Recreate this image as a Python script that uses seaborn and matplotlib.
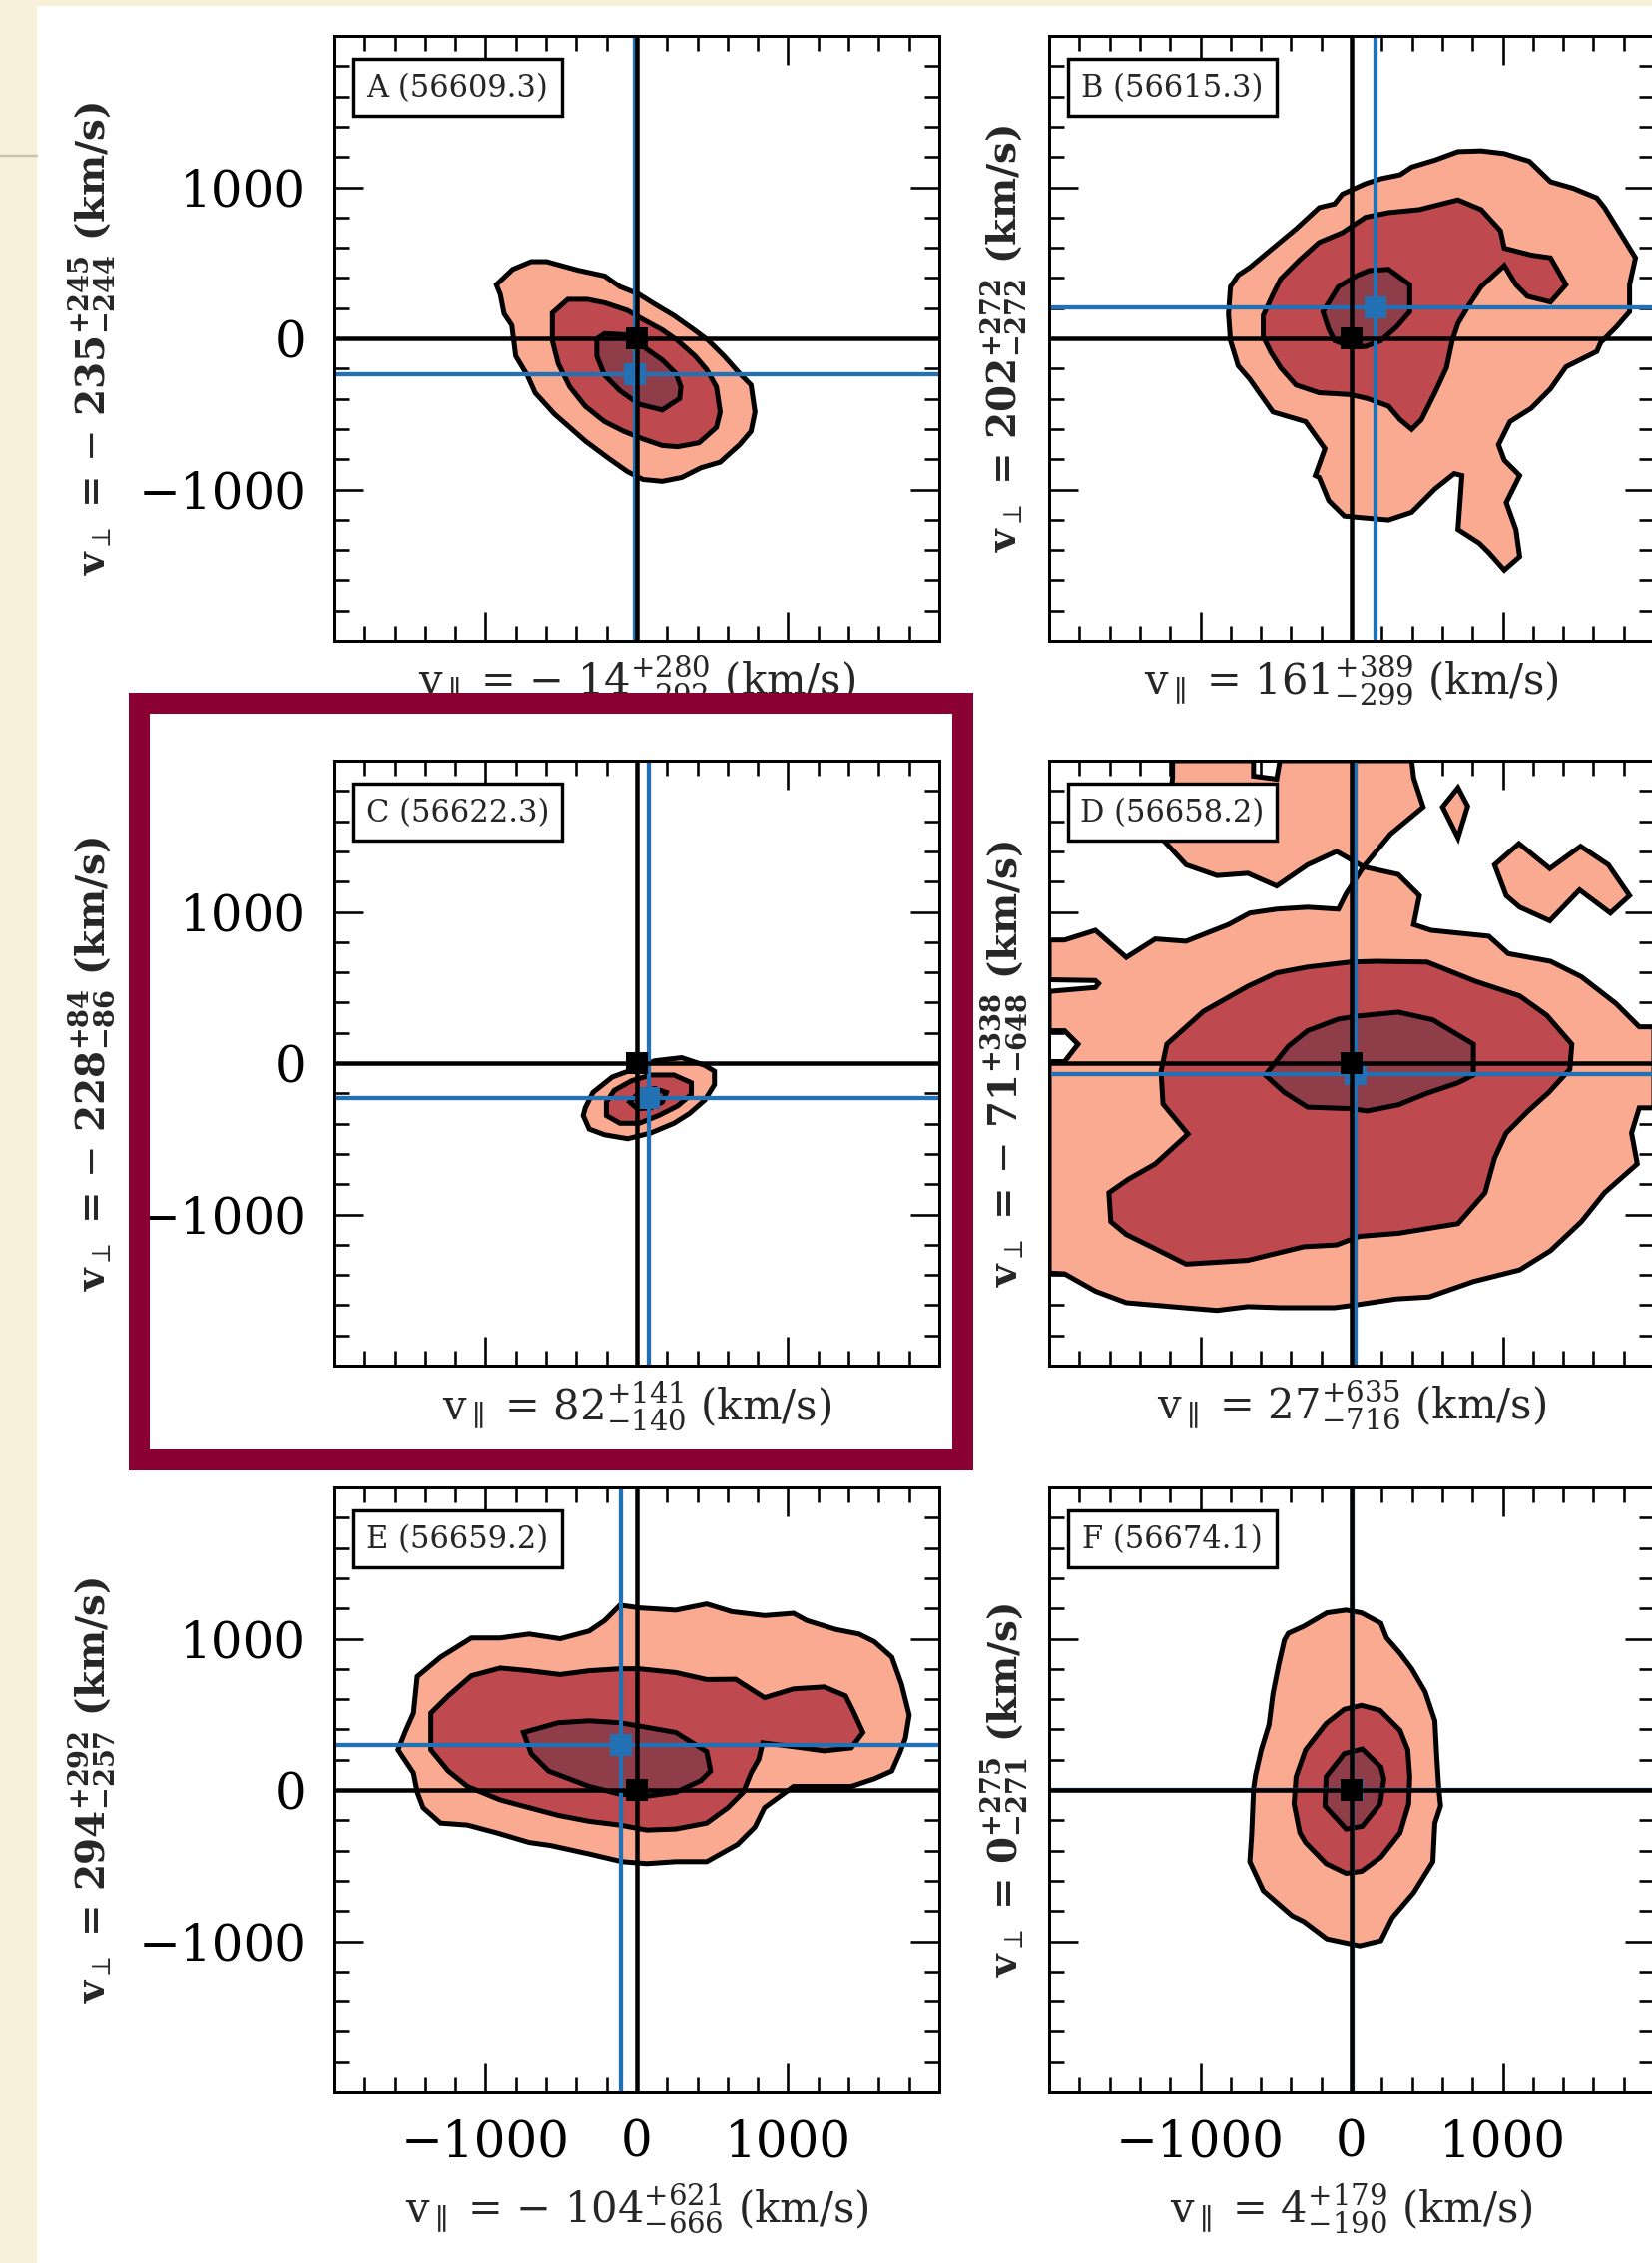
import numpy as np
import matplotlib
matplotlib.use("Agg")
import matplotlib.pyplot as plt
from matplotlib.patches import Rectangle
from matplotlib.lines import Line2D
from matplotlib.ticker import MultipleLocator
import seaborn as sns

# ---------------- data ----------------
panels = ["A", "B", "C", "D", "E", "F"]
mjd = [56609.3, 56615.3, 56622.3, 56658.2, 56659.2, 56674.1]
v_par = [-14, 161, 82, 27, -104, 4]
v_par_up = [280, 389, 141, 635, 621, 179]
v_par_dn = [292, 299, 140, 716, 666, 190]
v_perp = [-235, 202, -228, -71, 294, 0]
v_perp_up = [245, 272, 84, 338, 292, 275]
v_perp_dn = [244, 272, 86, 648, 257, 271]
tick_major = [-1000, 0, 1000]

# contour outlines (km/s): level 1 (outer), 2, 3 (inner)
A_c1 = [(-929, 355), (-821, 457), (-699, 508), (-597, 508), (-393, 452), (-214, 413), (-112, 342), (15, 291),
        (117, 227), (245, 151), (372, 61), (474, -15), (577, -117), (679, -232), (755, -309), (781, -487),
        (755, -615), (679, -704), (551, -819), (423, -857), (296, -921), (168, -946), (41, -934), (-61, -883),
        (-189, -793), (-342, -679), (-546, -500), (-673, -360), (-724, -245), (-801, -117), (-827, 87),
        (-878, 163), (-903, 291)]
A_c2 = [(-559, 168), (-457, 258), (-329, 258), (-214, 235), (-61, 184), (41, 125), (168, 56), (270, -15),
        (385, -117), (462, -207), (526, -321), (551, -487), (526, -589), (411, -691), (270, -717), (168, -709),
        (41, -666), (-87, -615), (-214, -551), (-342, -449), (-444, -321), (-520, -168), (-559, -15)]
A_c3 = [(-265, -3), (-214, 31), (-61, 23), (41, -54), (168, -143), (258, -232), (291, -321), (283, -398),
        (168, -474), (15, -436), (-112, -347), (-214, -245), (-265, -117)]

B_c1 = [(-801, 342), (-750, 418), (-673, 469), (-520, 597), (-367, 724), (-214, 865), (-112, 890), (-61, 954),
        (92, 1023), (194, 1056), (321, 1082), (398, 1133), (551, 1179), (704, 1235), (857, 1240), (1010, 1222),
        (1176, 1171), (1316, 1036), (1469, 992), (1622, 929), (1673, 865), (1776, 699), (1878, 533), (1839, 355),
        (1839, 176), (1750, 74), (1648, -28), (1622, -87), (1418, -189), (1316, -334), (1189, -462), (1048, -551),
        (972, -704), (1010, -806), (1112, -908), (1023, -1087), (1087, -1265), (1112, -1444), (1010, -1533),
        (908, -1418), (844, -1355), (704, -1265), (730, -908), (679, -895), (551, -997), (398, -1151),
        (245, -1202), (92, -1189), (-48, -1176), (-151, -1074), (-214, -921), (-240, -908), (-176, -730),
        (-304, -551), (-520, -487), (-610, -360), (-673, -270), (-750, -181), (-801, -15), (-814, 163)]
B_c2 = [(-584, 151), (-520, 291), (-469, 393), (-342, 520), (-214, 635), (-61, 699), (92, 801), (245, 832),
        (449, 852), (551, 878), (704, 916), (857, 852), (985, 712), (1010, 597), (1189, 551), (1316, 533),
        (1418, 355), (1316, 240), (1163, 278), (1087, 355), (1010, 482), (857, 342), (781, 227), (704, 99),
        (666, -15), (628, -194), (551, -360), (462, -538), (398, -602), (321, -538), (245, -449), (105, -398),
        (-10, -372), (-214, -360), (-367, -309), (-469, -194), (-533, -92), (-584, 10)]
B_c3 = [(-189, 176), (-87, 342), (41, 418), (117, 449), (245, 457), (385, 355), (385, 176), (296, 74),
        (194, -15), (92, -54), (-10, -54), (-112, -15), (-151, 61)]

C_c1 = [(-342, -296), (-291, -194), (-163, -92), (-10, -36), (117, 15), (296, 36), (449, -15), (513, -54),
        (513, -143), (449, -245), (347, -334), (245, -398), (92, -462), (-61, -500), (-214, -474), (-316, -436),
        (-355, -347)]
C_c2 = [(-202, -258), (-151, -181), (-36, -117), (92, -79), (245, -79), (360, -130), (360, -207), (270, -283),
        (143, -347), (15, -398), (-112, -398), (-202, -347)]
C_c3 = [(-48, -258), (15, -194), (117, -168), (194, -194), (168, -258), (92, -296), (3, -301)]

D_c1 = [(-1184, 2000), (-648, 2000), (-648, 1898), (-495, 1878), (-474, 2000), (398, 2000), (411, 1885),
        (474, 1694), (258, 1515), (79, 1298), (309, 1247), (449, 1107), (411, 916), (526, 878), (908, 839),
        (1036, 724), (1316, 673), (1520, 571), (1750, 393), (1903, 240), (2000, 240), (2000, -296),
        (1903, -296), (1852, -462), (1890, -666), (1673, -857), (1520, -1048), (1316, -1240), (1112, -1367),
        (806, -1444), (513, -1546), (296, -1559), (41, -1597), (-112, -1617), (-469, -1617), (-686, -1610),
        (-890, -1635), (-1107, -1617), (-1490, -1584), (-1694, -1508), (-1898, -1393), (-2000, -1388),
        (-2000, 10), (-1898, 10), (-1809, 125), (-1898, 214), (-2000, 214), (-2000, 474), (-1694, 500),
        (-1673, 526), (-1694, 546), (-2000, 551), (-2000, 814), (-1898, 814), (-1694, 878), (-1490, 699),
        (-1298, 821), (-1094, 806), (-814, 916), (-673, 992), (-495, 1018), (-291, 1031), (-87, 1018),
        (-36, 1120), (79, 1298), (-99, 1400), (-291, 1311), (-495, 1171), (-686, 1255), (-890, 1240),
        (-1094, 1311), (-1235, 1464), (-1184, 1885)]
D_c1_isle1 = [(602, 1694), (704, 1821), (768, 1699), (704, 1490)]
D_c1_isle2 = [(946, 1311), (1107, 1452), (1311, 1286), (1515, 1434), (1699, 1311), (1839, 1107), (1712, 992),
              (1508, 1145), (1311, 941), (1112, 1031), (1023, 1107)]
D_c2 = [(-1260, -54), (-1222, 125), (-980, 342), (-686, 508), (-495, 597), (-291, 635), (-10, 668), (168, 673),
        (500, 668), (819, 541), (1112, 444), (1291, 316), (1457, 125), (1444, -41), (1304, -194), (1163, -321),
        (1023, -462), (946, -628), (883, -857), (704, -1061), (309, -1125), (54, -1145), (-10, -1168),
        (-99, -1202), (-316, -1214), (-686, -1304), (-1094, -1329), (-1298, -1227), (-1490, -1133),
        (-1592, -1048), (-1605, -857), (-1477, -768), (-1298, -666), (-1082, -469), (-1247, -270)]
D_c3 = [(-571, -79), (-418, 112), (-291, 214), (-87, 291), (41, 311), (309, 337), (538, 286), (806, 125),
        (806, -79), (704, -130), (500, -199), (309, -276), (105, -316), (-10, -301), (-291, -291), (-444, -194)]

E_c1 = [(-1579, 265), (-1528, 393), (-1477, 508), (-1452, 750), (-1298, 878), (-1094, 1005), (-903, 1005),
        (-712, 1031), (-508, 1000), (-316, 1051), (-214, 1120), (-112, 1222), (15, 1204), (258, 1189),
        (462, 1230), (628, 1179), (844, 1153), (1036, 1168), (1125, 1120), (1316, 1061), (1469, 1031),
        (1571, 980), (1686, 878), (1750, 699), (1801, 495), (1776, 342), (1737, 240), (1686, 125), (1571, 74),
        (1418, 23), (1036, 23), (844, -117), (781, -245), (666, -360), (462, -474), (258, -474), (66, -487),
        (-99, -474), (-316, -423), (-571, -367), (-712, -347), (-929, -283), (-1120, -232), (-1298, -219),
        (-1413, -117), (-1452, -15), (-1477, 112)]
E_c2 = [(-1362, 265), (-1362, 508), (-1247, 622), (-1094, 755), (-903, 806), (-712, 788), (-508, 763),
        (-316, 788), (-112, 801), (15, 801), (258, 776), (462, 730), (653, 732), (844, 610), (1036, 668),
        (1240, 681), (1380, 622), (1431, 520), (1495, 380), (1418, 278), (1240, 258), (1036, 286), (832, 311),
        (806, 202), (755, 112), (704, -15), (602, -117), (462, -219), (258, -258), (66, -265), (-112, -232),
        (-316, -207), (-520, -168), (-712, -117), (-903, -66), (-1120, 23), (-1247, 125)]
E_c3 = [(-750, 380), (-520, 444), (-316, 457), (-112, 444), (41, 418), (258, 380), (462, 253), (487, 125),
        (423, 61), (258, -15), (66, -41), (-112, -28), (-316, 23), (-584, 125), (-699, 240)]

F_c1 = [(-418, 1036), (-316, 1082), (-163, 1171), (-36, 1189), (66, 1171), (194, 1102), (232, 1005),
        (321, 903), (398, 801), (487, 648), (551, 457), (564, 214), (577, 10), (589, -105), (551, -219),
        (538, -474), (411, -679), (270, -844), (194, -997), (54, -1031), (-163, -985), (-316, -870),
        (-393, -832), (-584, -666), (-673, -474), (-661, -296), (-648, 10), (-635, 99), (-597, 265),
        (-546, 431), (-520, 635), (-482, 827), (-444, 992)]
F_c2 = [(-367, 87), (-304, 265), (-168, 439), (-48, 533), (66, 559), (189, 526), (321, 393), (372, 265),
        (385, 87), (378, -92), (321, -283), (194, -444), (66, -538), (-36, -551), (-168, -487), (-304, -347),
        (-342, -283), (-380, -92)]
F_c3 = [(-168, 87), (-48, 240), (71, 270), (194, 151), (214, 74), (189, -92), (71, -240), (-36, -258),
        (-176, -105)]

contours = {
    "A": [[A_c1], [A_c2], [A_c3]],
    "B": [[B_c1], [B_c2], [B_c3]],
    "C": [[C_c1], [C_c2], [C_c3]],
    "D": [[D_c1, D_c1_isle1, D_c1_isle2], [D_c2], [D_c3]],
    "E": [[E_c1], [E_c2], [E_c3]],
    "F": [[F_c1], [F_c2], [F_c3]],
}

# ---------------- style ----------------
W, H = 1656, 2267
DPI = 100
PT = 72.0 / DPI  # points per pixel

sns.set_theme(style="ticks")
plt.rcParams.update({
    "font.family": ["DejaVu Serif"],
    "mathtext.fontset": "dejavuserif",
    "axes.linewidth": 3 * PT,
    "axes.edgecolor": "black",
    "xtick.major.size": 29 * PT, "ytick.major.size": 29 * PT,
    "xtick.minor.size": 15 * PT, "ytick.minor.size": 15 * PT,
    "xtick.major.width": 2.6 * PT, "ytick.major.width": 2.6 * PT,
    "xtick.minor.width": 2.6 * PT, "ytick.minor.width": 2.6 * PT,
    "xtick.color": "black", "ytick.color": "black",
})

CREAM = "#f8f1d9"
LEV_COLORS = ["#f9aa90", "#be4a50", "#8e3d49"]
BLUE = "#2371b5"
BORDER = "#8a0033"

fig = plt.figure(figsize=(W / DPI, H / DPI), dpi=DPI, facecolor=CREAM)

# white page area
fig.add_artist(Rectangle((37 / W, 0), 1 - 37 / W, 1 - 6 / H, transform=fig.transFigure,
                         facecolor="white", edgecolor="none", zorder=-10))
fig.add_artist(Line2D([0, 37 / W], [1 - 156 / H, 1 - 156 / H], transform=fig.transFigure,
                      color="#c8c2ae", lw=2.5 * PT, zorder=-9))

col_left = [335, 1051]
row_top = [36, 762, 1490]
AX = 606

XLAB_FS = 30
YLAB_FS = 28
TICK_FS = 36


def fmt_val(v, up, dn, bold=False):
    sign = r"$-$ " if v < 0 else ""
    if bold:
        core = r"$\mathbf{%d}^{\mathbf{+%d}}_{\mathbf{-%d}}$" % (abs(v), up, dn)
    else:
        core = r"$%d^{+%d}_{-%d}$" % (abs(v), up, dn)
    return sign + core


for i, p in enumerate(panels):
    r, c = divmod(i, 2)
    left = col_left[c]
    top = row_top[r]
    ax = fig.add_axes([left / W, 1 - (top + AX) / H, AX / W, AX / H])
    ax.set_facecolor("white")
    ax.set_xlim(-2000, 2000)
    ax.set_ylim(-2000, 2000)

    # filled contour levels
    for lev, polys in enumerate(contours[p]):
        for poly in polys:
            xs = [q[0] for q in poly]
            ys = [q[1] for q in poly]
            ax.fill(xs, ys, facecolor=LEV_COLORS[lev], edgecolor="black",
                    linewidth=5 * PT, joinstyle="miter", zorder=1 + lev * 0.1)

    # best-fit (blue) lines and marker
    ax.axvline(v_par[i], color=BLUE, lw=4.3 * PT, zorder=3)
    ax.axhline(v_perp[i], color=BLUE, lw=4.3 * PT, zorder=3)
    sns.scatterplot(x=[v_par[i]], y=[v_perp[i]], marker="s", s=(22 * PT) ** 2, color=BLUE,
                    edgecolor="none", linewidth=0, ax=ax, zorder=4, legend=False)
    # origin (black)
    ax.axvline(0, color="black", lw=4.5 * PT, zorder=5)
    ax.axhline(0, color="black", lw=4.5 * PT, zorder=5)
    sns.scatterplot(x=[0], y=[0], marker="s", s=(22 * PT) ** 2, color="black",
                    edgecolor="none", linewidth=0, ax=ax, zorder=6, legend=False)

    # ticks
    ax.set_xticks(tick_major)
    ax.set_yticks(tick_major)
    ax.xaxis.set_minor_locator(MultipleLocator(200))
    ax.yaxis.set_minor_locator(MultipleLocator(200))
    ax.tick_params(which="both", direction="in", top=True, right=True, bottom=True, left=True)
    ax.tick_params(axis="y", labelsize=TICK_FS, pad=20, labelleft=(c == 0))
    ax.tick_params(axis="x", labelsize=TICK_FS, pad=19, labelbottom=(r == 2))
    ax.set_xlabel("")
    ax.set_ylabel("")
    for s in ax.spines.values():
        s.set_visible(True)
        s.set_zorder(8)

    # panel tag box
    ax.add_patch(Rectangle((0.0306, 0.868), 0.345, 0.094, transform=ax.transAxes,
                           facecolor="white", edgecolor="black", lw=3.4 * PT, zorder=9))
    ax.text(0.2035, 0.914, f"{p} ({mjd[i]:.1f})", transform=ax.transAxes, ha="center", va="center",
            fontsize=22, family="DejaVu Serif", zorder=10)

    # axis labels as figure text
    cx = left + AX / 2
    xlab = r"$\mathrm{v}_{\parallel}$ = " + fmt_val(v_par[i], v_par_up[i], v_par_dn[i]) + " (km/s)"
    xly = top + AX + (117 if r == 2 else 40)
    fig.text(cx / W, 1 - xly / H, xlab, ha="center", va="center", fontsize=XLAB_FS, zorder=3)

    ylab = r"$\mathbf{v}_{\perp}$ = " + fmt_val(v_perp[i], v_perp_up[i], v_perp_dn[i], bold=True) + " (km/s)"
    ylx = 92 if c == 0 else 1006
    fig.text(ylx / W, 1 - (top + AX / 2) / H, ylab, ha="center", va="center", rotation=90,
             fontsize=YLAB_FS, fontweight="bold", zorder=3)

# highlight frame around panel C
fig.add_artist(Rectangle((139 / W, 1 - 1461.5 / H), (964.5 - 139) / W, (1461.5 - 703.5) / H,
                         transform=fig.transFigure, fill=False, edgecolor=BORDER,
                         lw=21 * PT, joinstyle="miter", zorder=20))

fig.savefig("out.png", dpi=DPI, facecolor=CREAM)
